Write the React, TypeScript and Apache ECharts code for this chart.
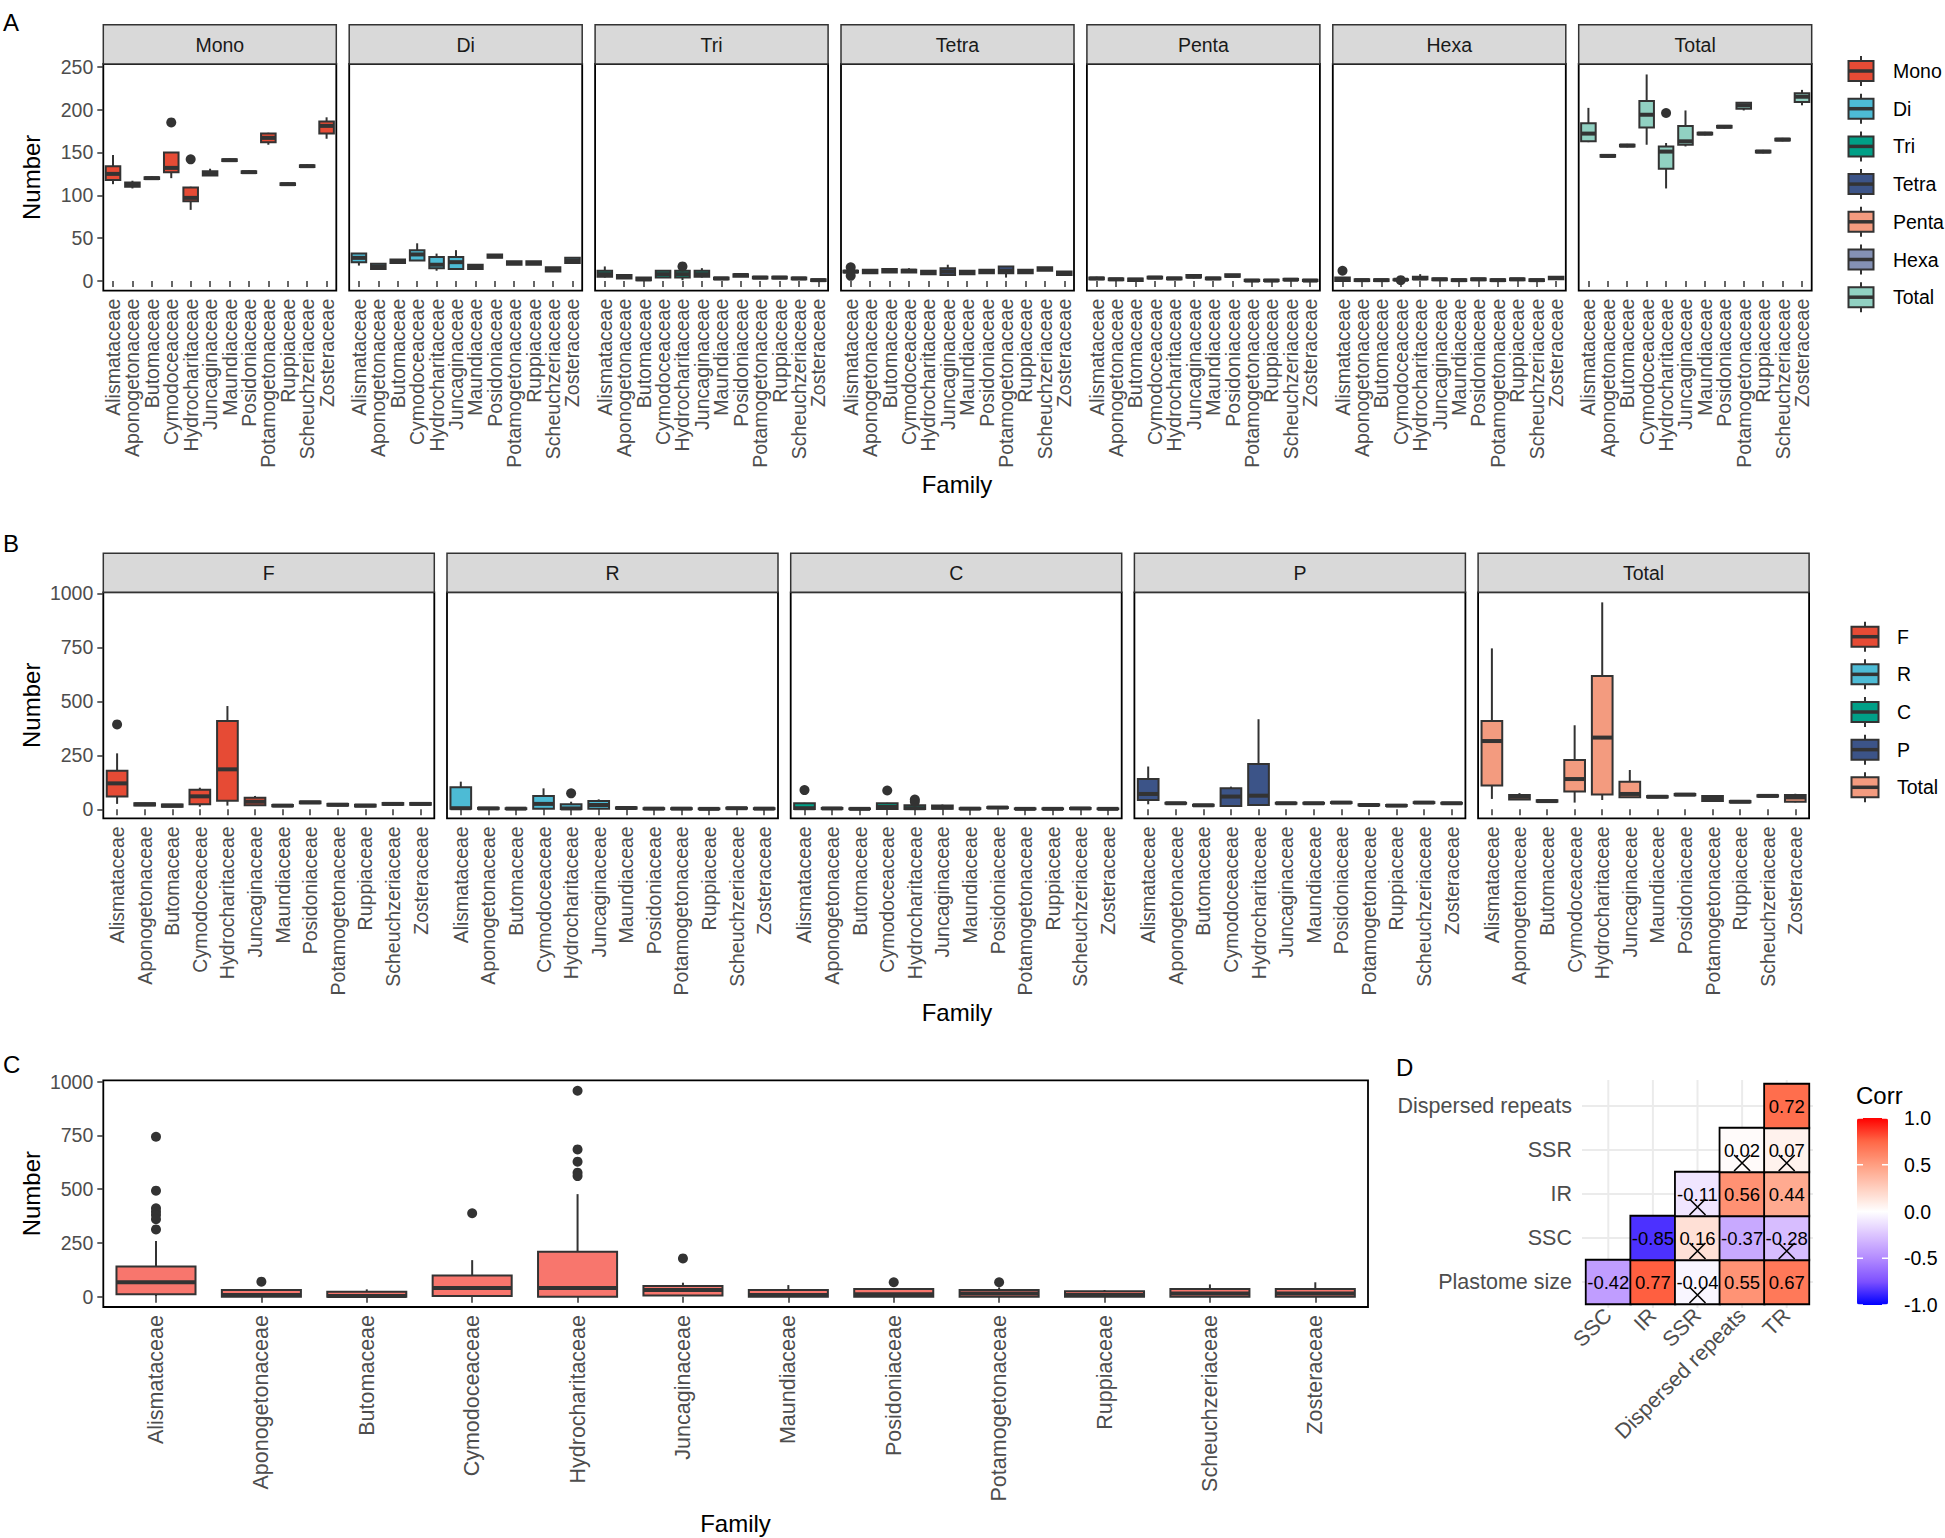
import { useEffect, useRef } from 'react';
import * as echarts from 'echarts';

// ---------------- DATA ----------------
const FAMILIES = [
  'Alismataceae', 'Aponogetonaceae', 'Butomaceae', 'Cymodoceaceae', 'Hydrocharitaceae',
  'Juncaginaceae', 'Maundiaceae', 'Posidoniaceae', 'Potamogetonaceae', 'Ruppiaceae',
  'Scheuchzeriaceae', 'Zosteraceae',
];

// Panel A: SSR types  (box = [min, q1, median, q3, max]; outliers = [familyIndex, value])
const A_PANELS = ['Mono', 'Di', 'Tri', 'Tetra', 'Penta', 'Hexa', 'Total'];
const A_COLORS = ['#E64B35', '#4DBBD5', '#00A087', '#3C5488', '#F39B7F', '#8491B4', '#91D1C2'];
const A_TICKS = [0, 50, 100, 150, 200, 250];

const A_MONO = [[113, 118, 125, 134, 147], [108, 110, 112, 115, 117], [118, 119, 120, 121, 122], [120, 127, 132, 150, 150], [83, 93, 97, 109, 110], [123, 123, 125, 128, 131], [139, 140, 141, 142, 143], [125, 126, 127, 128, 129], [159, 162, 167, 172, 173], [111, 112, 113, 114, 115], [132, 133, 134, 135, 136], [166, 172, 181, 186, 191]];
const A_MONO_OUT = [[3, 185], [4, 142]];
const A_DI = [[18, 22, 27, 32, 32], [14, 14, 17, 20, 20], [21, 21, 23, 25, 25], [24, 24, 31, 36, 44], [12, 15, 19, 28, 32], [14, 14, 22, 28, 36], [14, 14, 17, 19, 19], [27, 27, 29, 31, 31], [19, 19, 21, 23, 23], [19, 19, 21, 23, 23], [11, 11, 13, 16, 16], [21, 21, 24, 27, 27]];
const A_DI_OUT: number[][] = [];
const A_TRI = [[4, 5, 8, 12, 17], [3, 3, 5, 7, 7], [1, 1, 2, 4, 4], [4, 4, 8, 12, 12], [1, 4, 8, 12, 13], [4, 5, 8, 12, 15], [2, 2, 3, 4, 4], [5, 5, 7, 8, 8], [3, 3, 4, 5, 5], [3, 3, 4, 5, 5], [2, 2, 3, 4, 4], [0, 0, 1, 2, 2]];
const A_TRI_OUT = [[4, 17]];
const A_TETRA = [[9, 10, 11, 12, 13], [9, 9, 11, 13, 13], [10, 10, 12, 14, 14], [10, 10, 12, 13, 15], [8, 8, 10, 12, 12], [6, 7, 11, 15, 19], [8, 8, 10, 12, 12], [9, 9, 11, 13, 13], [4, 9, 12, 17, 17], [9, 9, 11, 13, 13], [12, 12, 14, 16, 16], [7, 7, 9, 11, 11]];
const A_TETRA_OUT = [[0, 16], [0, 6]];
const A_PENTA = [[2, 2, 3, 4, 5], [1, 1, 2, 3, 3], [0, 0, 1.5, 3, 3], [3, 3, 4, 5, 5], [2, 2, 3, 4, 4], [3, 4, 5, 7, 7], [2, 2, 3, 4, 4], [5, 5, 6, 8, 8], [0, 0, 0.5, 1.5, 1.5], [0, 0, 0.5, 1.5, 1.5], [0, 1, 1.5, 2.5, 2.5], [0, 0, 0.5, 1.5, 1.5]];
const A_PENTA_OUT: number[][] = [];
const A_HEXA = [[0, 0, 2, 4, 4], [0, 0, 1, 2, 2], [0, 0, 1, 2, 2], [0, 1, 1.5, 2, 2.5], [1, 2, 3, 5, 8], [1, 1, 2, 3, 3], [0, 0, 1, 2, 2], [1, 1, 2, 3, 3], [0, 0, 1, 2, 2], [1, 1, 2, 3, 3], [0, 0, 1, 2, 2], [2, 2, 3.5, 5, 5]];
const A_HEXA_OUT = [[0, 12], [3, 1]];
const A_TOTAL = [[162, 163, 172, 184, 202], [144, 145, 146, 147, 148], [156, 157, 158, 159, 160], [159, 179, 194, 210, 241], [108, 131, 151, 157, 161], [157, 159, 163, 181, 199], [170, 171, 172, 173, 174], [178, 179, 180, 181, 182], [199, 201, 205, 208, 208], [149, 150, 151, 152, 153], [163, 164, 165, 166, 167], [205, 209, 215, 219, 223]];
const A_TOTAL_OUT = [[4, 196]];

// Panel B: repeat types
const B_PANELS = ['F', 'R', 'C', 'P', 'Total'];
const B_COLORS = ['#E64B35', '#4DBBD5', '#00A087', '#3C5488', '#F39B7F'];
const B_TICKS = [0, 250, 500, 750, 1000];

const B_F = [[25, 59, 120, 179, 259], [15, 18, 23, 28, 30], [10, 12, 17, 22, 24], [12, 23, 60, 90, 100], [17, 39, 185, 409, 478], [18, 19, 35, 54, 62], [12, 14, 17, 20, 22], [25, 28, 32, 36, 38], [14, 17, 21, 25, 27], [10, 13, 17, 21, 23], [18, 21, 25, 29, 31], [18, 21, 25, 29, 31]];
const B_F_OUT = [[0, 393]];
const B_R = [[0, 2, 5, 102, 128], [0, 2, 4, 7, 8], [0, 1, 3, 5, 6], [0, 2, 25, 62, 97], [0, 1, 4, 23, 35], [0, 2, 20, 38, 46], [1, 3, 6, 9, 10], [0, 1, 3, 5, 6], [0, 1, 3, 5, 6], [0, 1, 2, 4, 5], [1, 3, 5, 7, 8], [0, 1, 3, 5, 6]];
const B_R_OUT = [[4, 74]];
const B_C = [[0, 1, 5, 28, 30], [0, 2, 4, 6, 7], [0, 1, 2, 4, 5], [0, 1, 11, 28, 30], [0, 1, 5, 19, 22], [0, 2, 8, 18, 22], [0, 1, 3, 5, 6], [4, 6, 8, 10, 11], [0, 1, 2, 4, 5], [0, 1, 2, 4, 5], [1, 2, 4, 6, 7], [0, 1, 2, 4, 5]];
const B_C_OUT = [[0, 89], [3, 87], [4, 45], [4, 35]];
const B_P = [[23, 43, 71, 140, 198], [24, 26, 28, 30, 32], [14, 16, 18.5, 21, 23], [15, 15, 59, 97, 105], [20, 20, 63, 210, 417], [24, 26, 28, 30, 32], [24, 26, 28, 30, 32], [27, 29, 31, 33, 35], [15, 18, 20, 23, 25], [12, 15, 17, 20, 22], [27, 29, 31, 33, 35], [24, 26, 28, 30, 32]];
const B_P_OUT: number[][] = [];
const B_TOTAL = [[48, 110, 316, 409, 745], [43, 45, 58, 66, 75], [32, 35, 38, 42, 44], [31, 82, 140, 228, 389], [43, 69, 332, 617, 958], [54, 56, 71, 128, 182], [52, 55, 58, 61, 63], [62, 65, 68, 71, 73], [35, 38, 51, 62, 64], [30, 32, 35, 38, 40], [56, 59, 62, 65, 67], [32, 35, 55, 66, 72]];
const B_TOTAL_OUT: number[][] = [];

// Panel C: all repeats per family
const C_COLOR = '#F8766D';
const C_BOXES = [[0, 11, 67, 140, 259], [0, 0, 8, 31, 35], [0, 0, 3, 23, 34], [0, 3, 40, 99, 170], [0, 0, 40, 209, 477], [3, 5, 31, 50, 65], [0, 0, 8, 31, 54], [0, 0, 11, 36, 40], [0, 0, 15, 31, 43], [0, 0, 8, 25, 31], [0, 0, 15, 36, 57], [0, 0, 15, 36, 67]];
const C_OUT = [[0, 744], [0, 493], [0, 411], [0, 395], [0, 380], [0, 360], [0, 313], [1, 70], [3, 388], [4, 958], [4, 685], [4, 628], [4, 577], [4, 561], [5, 178], [7, 67], [8, 67]];

// Panel D: correlation matrix
const D_X = ['SSC', 'IR', 'SSR', 'Dispersed repeats', 'TR'];
const D_Y = ['Plastome size', 'SSC', 'IR', 'SSR', 'Dispersed repeats'];
const D_CORR = [
  [0, 0, -0.42], [1, 0, 0.77], [2, 0, -0.04], [3, 0, 0.55], [4, 0, 0.67],
  [1, 1, -0.85], [2, 1, 0.16], [3, 1, -0.37], [4, 1, -0.28],
  [2, 2, -0.11], [3, 2, 0.56], [4, 2, 0.44],
  [3, 3, 0.02], [4, 3, 0.07],
  [4, 4, 0.72],
];
const D_INSIG = [[2, 0], [2, 1], [4, 1], [2, 2], [3, 3], [4, 3]];
const D_LEGEND_TICKS = [1, 0.5, 0, -0.5, -1];
const HEAT_COLORS = ['#0000FF', '#7E51FF', '#B38BFF', '#DCC4FF', '#FFFFFF', '#FFCFBF', '#FF9E81', '#FF6746', '#FF0000'];

// ---------------- STYLE ----------------
const FONT = '"Liberation Sans", Arial, Helvetica, sans-serif';
const GREY30 = '#4D4D4D';
const DARK = '#333333';

function boxRender(fill: string) {
  return (params: any, api: any) => {
    const i = api.value(0);
    const ys = [1, 2, 3, 4, 5].map((k) => api.coord([i, api.value(k)]));
    const cx = ys[0][0];
    const w = api.size([1, 0])[0] * 0.75;
    const [yMin, yQ1, yMed, yQ3, yMax] = ys.map((q: number[]) => q[1]);
    const s = { stroke: DARK, lineWidth: 2 };
    return {
      type: 'group',
      children: [
        { type: 'line', shape: { x1: cx, y1: yMax, x2: cx, y2: yQ3 }, style: s },
        { type: 'line', shape: { x1: cx, y1: yQ1, x2: cx, y2: yMin }, style: s },
        { type: 'rect', shape: { x: cx - w / 2, y: yQ3, width: w, height: yQ1 - yQ3 }, style: { fill, stroke: DARK, lineWidth: 2 } },
        { type: 'line', shape: { x1: cx - w / 2, y1: yMed, x2: cx + w / 2, y2: yMed }, style: { stroke: DARK, lineWidth: 4 } },
      ],
    };
  };
}

function buildOption() {
  const grids: any[] = [];
  const xAxes: any[] = [];
  const yAxes: any[] = [];
  const series: any[] = [];
  const graphics: any[] = [];

  const txt = (x: number, y: number, text: string, size: number, opts: any = {}) => ({
    type: 'text', x, y, rotation: opts.rotation || 0, silent: true,
    style: { text, fill: opts.color || '#000', font: `${size}px ${FONT}`, textAlign: opts.align || 'center', textVerticalAlign: 'middle' },
  });

  function addBoxPanel(boxes: number[][], outliers: number[][], color: string, rect: number[], yMin: number, yMax: number, ticks: number[], showY: boolean, xLabelSize: number) {
    const gi = grids.length;
    grids.push({ left: rect[0], top: rect[1], width: rect[2], height: rect[3], show: true, borderColor: '#000', borderWidth: 1.8, backgroundColor: '#fff' });
    xAxes.push({
      gridIndex: gi, type: 'category', data: FAMILIES, boundaryGap: true,
      axisLine: { show: false },
      axisTick: { show: true, alignWithLabel: true, length: 6, lineStyle: { color: DARK, width: 1.5 } },
      axisLabel: { interval: 0, rotate: 90, margin: 8, color: GREY30, fontSize: xLabelSize, fontFamily: FONT },
      splitLine: { show: false },
    });
    yAxes.push({
      gridIndex: gi, type: 'value', min: yMin, max: yMax,
      axisLine: { show: false },
      axisTick: { show: showY, length: 6, lineStyle: { color: DARK, width: 1.5 }, customValues: ticks },
      axisLabel: { show: showY, margin: 10, color: GREY30, fontSize: 19.5, fontFamily: FONT, customValues: ticks, formatter: (v: number) => String(v) },
      splitLine: { show: false },
    });
    series.push({
      type: 'custom', xAxisIndex: gi, yAxisIndex: gi, renderItem: boxRender(color),
      encode: { x: 0, y: [1, 2, 3, 4, 5] }, data: boxes.map((b, i) => [i, ...b]), silent: true, z: 2,
    });
    if (outliers.length) {
      series.push({
        type: 'scatter', xAxisIndex: gi, yAxisIndex: gi, data: outliers, symbol: 'circle', symbolSize: 10,
        itemStyle: { color: DARK, opacity: 1 }, silent: true, z: 3,
      });
    }
  }

  // ---- Panel A ----
  const aData = [A_MONO, A_DI, A_TRI, A_TETRA, A_PENTA, A_HEXA, A_TOTAL];
  const aOut = [A_MONO_OUT, A_DI_OUT, A_TRI_OUT, A_TETRA_OUT, A_PENTA_OUT, A_HEXA_OUT, A_TOTAL_OUT];
  const aTop = 64, aH = 226.7, aW = 233;
  A_PANELS.forEach((name, i) => {
    const left = 103.3 + 245.9 * i;
    addBoxPanel(aData[i], aOut[i], A_COLORS[i], [left, aTop, aW, aH], -11.3, 253.2, A_TICKS, i === 0, 19.5);
    graphics.push({ type: 'rect', shape: { x: left, y: 24.7, width: aW, height: aTop - 24.7 }, style: { fill: '#D9D9D9', stroke: DARK, lineWidth: 1.5 }, silent: true });
    graphics.push(txt(left + aW / 2, 44.5, name, 19.5, { color: '#1A1A1A' }));
  });

  // ---- Panel B ----
  const bData = [B_F, B_R, B_C, B_P, B_TOTAL];
  const bOut = [B_F_OUT, B_R_OUT, B_C_OUT, B_P_OUT, B_TOTAL_OUT];
  const bTop = 592.3, bH = 226, bW = 331;
  B_PANELS.forEach((name, i) => {
    const left = 103.3 + 343.7 * i;
    addBoxPanel(bData[i], bOut[i], B_COLORS[i], [left, bTop, bW, bH], -41.7, 1004.6, B_TICKS, i === 0, 19.5);
    graphics.push({ type: 'rect', shape: { x: left, y: 553.3, width: bW, height: bTop - 553.3 }, style: { fill: '#D9D9D9', stroke: DARK, lineWidth: 1.5 }, silent: true });
    graphics.push(txt(left + bW / 2, 573, name, 19.5, { color: '#1A1A1A' }));
  });

  // ---- Panel C ----
  addBoxPanel(C_BOXES, C_OUT, C_COLOR, [103.3, 1080.4, 1264.7, 226.6], -48, 1006, B_TICKS, true, 21.5);

  // ---- Panel D ----
  const dg = grids.length;
  grids.push({ left: 1586, top: 1084, width: 223, height: 220, show: false });
  xAxes.push({
    gridIndex: dg, type: 'category', data: D_X, boundaryGap: true,
    axisLine: { show: false }, axisTick: { show: false }, splitLine: { show: false },
    axisLabel: { interval: 0, rotate: 45, margin: 8, color: GREY30, fontSize: 21.5, fontFamily: FONT },
  });
  yAxes.push({
    gridIndex: dg, type: 'category', data: D_Y, boundaryGap: true,
    axisLine: { show: false }, axisTick: { show: false }, splitLine: { show: false },
    axisLabel: { interval: 0, margin: 14, color: GREY30, fontSize: 21.5, fontFamily: FONT },
  });
  series.push({
    type: 'custom', xAxisIndex: dg, yAxisIndex: dg, encode: { x: 0, y: 1 },
    data: D_X.map((_, i) => [i, i]), silent: true, z: 1,
    renderItem: (params: any, api: any) => {
      const i = api.value(0);
      const cs = params.coordSys;
      const x = api.coord([i, 0])[0];
      const y = api.coord([0, i])[1];
      const st = { stroke: '#EBEBEB', lineWidth: 2 };
      return {
        type: 'group',
        children: [
          { type: 'line', shape: { x1: x, y1: cs.y - 4, x2: x, y2: cs.y + cs.height + 4 }, style: st },
          { type: 'line', shape: { x1: cs.x - 4, y1: y, x2: cs.x + cs.width + 4, y2: y }, style: st },
        ],
      };
    },
  });
  const heatIdx = series.length;
  series.push({
    type: 'heatmap', xAxisIndex: dg, yAxisIndex: dg, data: D_CORR, silent: true, z: 2,
    itemStyle: { borderColor: '#000', borderWidth: 1.8 },
    label: { show: true, formatter: (p: any) => p.value[2].toFixed(2), color: '#000', fontSize: 18.5, fontFamily: FONT },
  });
  series.push({
    type: 'scatter', xAxisIndex: dg, yAxisIndex: dg, data: D_INSIG, silent: true, z: 4,
    symbol: 'path://M0 0L10 10M10 0L0 10', symbolSize: 16, symbolOffset: [0, 13],
    itemStyle: { color: 'rgba(0,0,0,0)', borderColor: '#000', borderWidth: 1.6, opacity: 1 },
  });

  // ---- Legends (drawn keys) ----
  const key = (cx: number, cy: number, fill: string, w: number) => [
    { type: 'line', shape: { x1: cx, y1: cy - 15, x2: cx, y2: cy + 15 }, style: { stroke: DARK, lineWidth: 2 }, silent: true },
    { type: 'rect', shape: { x: cx - w / 2, y: cy - 10, width: w, height: 20 }, style: { fill, stroke: DARK, lineWidth: 2 }, silent: true },
    { type: 'line', shape: { x1: cx - w / 2, y1: cy, x2: cx + w / 2, y2: cy }, style: { stroke: DARK, lineWidth: 3.5 }, silent: true },
  ];
  A_PANELS.forEach((name, i) => {
    const cy = 71 + 37.7 * i;
    graphics.push(...key(1861, cy, A_COLORS[i], 25));
    graphics.push(txt(1893, cy, name, 19.5, { align: 'left' }));
  });
  B_PANELS.forEach((name, i) => {
    const cy = 636.7 + 37.65 * i;
    graphics.push(...key(1865, cy, B_COLORS[i], 27));
    graphics.push(txt(1897, cy, name, 19.5, { align: 'left' }));
  });

  // colorbar ticks + labels
  const cbTop = 1118, cbH = 187, cbLeft = 1857, cbW = 31;
  D_LEGEND_TICKS.forEach((v) => {
    const y = cbTop + ((1 - v) / 2) * cbH;
    graphics.push({ type: 'line', shape: { x1: cbLeft, y1: y, x2: cbLeft + 6, y2: y }, style: { stroke: '#fff', lineWidth: 1.5 }, silent: true, z: 10 });
    graphics.push({ type: 'line', shape: { x1: cbLeft + cbW - 6, y1: y, x2: cbLeft + cbW, y2: y }, style: { stroke: '#fff', lineWidth: 1.5 }, silent: true, z: 10 });
    graphics.push(txt(1904, y, v.toFixed(1), 19.5, { align: 'left' }));
  });
  graphics.push(txt(1856, 1095, 'Corr', 24, { align: 'left' }));

  // ---- Titles and panel tags ----
  graphics.push(txt(31, (aTop + aTop + aH) / 2, 'Number', 24, { rotation: Math.PI / 2 }));
  graphics.push(txt(31, bTop + bH / 2, 'Number', 24, { rotation: Math.PI / 2 }));
  graphics.push(txt(31, 1080.4 + 226.6 / 2, 'Number', 24, { rotation: Math.PI / 2 }));
  graphics.push(txt(957, 484, 'Family', 24));
  graphics.push(txt(957, 1012, 'Family', 24));
  graphics.push(txt(735.5, 1523, 'Family', 24));
  graphics.push(txt(3, 22, 'A', 24, { align: 'left' }));
  graphics.push(txt(3, 543, 'B', 24, { align: 'left' }));
  graphics.push(txt(3, 1064, 'C', 24, { align: 'left' }));
  graphics.push(txt(1396, 1067, 'D', 24, { align: 'left' }));

  return {
    animation: false,
    backgroundColor: '#fff',
    textStyle: { fontFamily: FONT },
    grid: grids,
    xAxis: xAxes,
    yAxis: yAxes,
    visualMap: {
      type: 'continuous', min: -1, max: 1, seriesIndex: heatIdx, show: true, calculable: false,
      orient: 'vertical', left: cbLeft, top: cbTop, itemWidth: cbW, itemHeight: cbH, padding: 0,
      hoverLink: false, inRange: { color: HEAT_COLORS },
    },
    series,
    graphic: graphics,
  };
}

export default function App() {
  const ref = useRef<HTMLDivElement>(null);
  useEffect(() => {
    document.body.style.margin = '0';
    const chart = echarts.init(ref.current as HTMLDivElement, null, { renderer: 'svg' });
    chart.setOption(buildOption() as any);
    return () => chart.dispose();
  }, []);
  return <div ref={ref} style={{ width: 1945, height: 1538, background: '#fff' }} />;
}
